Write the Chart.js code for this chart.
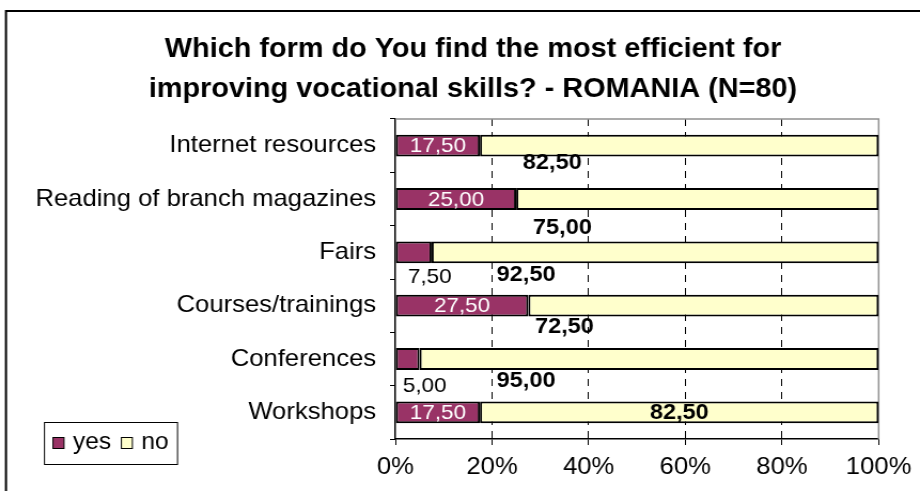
<!DOCTYPE html>
<html>
<head>
<meta charset="utf-8">
<script src="https://cdn.jsdelivr.net/npm/chart.js@4"></script>
<style>
  html, body { margin: 0; padding: 0; background: #fff; overflow: hidden; }
  /* the original picture is slightly stretched sideways, so the canvas is too */
  #wrap { width: 861px; height: 491px; transform: scaleX(1.0685); transform-origin: 0 0; }
</style>
</head>
<body>
<div id="wrap"><canvas id="chart" width="861" height="491"></canvas></div>
<script>
const categories = ["Internet resources", "Reading of branch magazines", "Fairs", "Courses/trainings", "Conferences", "Workshops"];
const yesValues = [17.5, 25, 7.5, 27.5, 5, 17.5];
const noValues = [82.5, 75, 92.5, 72.5, 95, 82.5];
const xTicks = [0, 20, 40, 60, 80, 100];
const titleLines = ["Which form do You find the most efficient for", "improving vocational skills? - ROMANIA (N=80)"];

const S = 920 / 861; // horizontal stretch
// label nudges (screen px from segment centre), as placed in the original
const yesLabelShift = [[0, 0], [0, 0], [16, 24], [0, 0], [17, 26], [0, 0]];
const noLabelShift = [[-127, 16], [-135, 28], [-129, 22], [-139, 20], [-123, 21], [0, 0]];

const FONT = "'Liberation Sans', Arial, sans-serif";
Chart.defaults.font.family = FONT;
Chart.defaults.color = "#000";

const fmt = v => v.toFixed(2).replace(".", ",");

const decorations = {
  id: "decorations",
  beforeDatasetsDraw(chart) {
    const { ctx, chartArea: a } = chart;
    ctx.save();
    ctx.strokeStyle = "#909090";
    ctx.lineWidth = 1.5;
    ctx.beginPath();
    ctx.moveTo(a.left, a.top);
    ctx.lineTo(a.right, a.top);
    ctx.lineTo(a.right, a.bottom);
    ctx.stroke();
    ctx.restore();
  },
  afterDatasetsDraw(chart) {
    const { ctx } = chart;
    ctx.save();
    ctx.textAlign = "center";
    ctx.textBaseline = "middle";
    chart.data.datasets.forEach((ds, di) => {
      const meta = chart.getDatasetMeta(di);
      meta.data.forEach((bar, i) => {
        const v = ds.data[i];
        const cx = (bar.x + bar.base) / 2;
        const [dx, dy] = (di === 0 ? yesLabelShift : noLabelShift)[i];
        if (di === 0) {
          ctx.font = "21px " + FONT;
          ctx.fillStyle = v >= 10 ? "#fff" : "#000";
        } else {
          ctx.font = "bold 22px " + FONT;
          ctx.fillStyle = "#000";
        }
        ctx.fillText(fmt(v), cx + dx / S, bar.y + 1 + dy);
      });
    });
    ctx.restore();
  },
  afterDraw(chart) {
    const { ctx } = chart;
    ctx.save();
    // outer frame
    ctx.strokeStyle = "#000";
    ctx.lineWidth = 2;
    ctx.strokeRect(5.6, 11, 1000, 1000);
    // title
    ctx.fillStyle = "#000";
    ctx.textAlign = "center";
    ctx.textBaseline = "alphabetic";
    ctx.font = "bold 27px " + FONT;
    titleLines.forEach((t, i) => ctx.fillText(t, 473 / S, 57 + i * 40));
    // legend
    ctx.lineWidth = 1;
    ctx.strokeRect(44.5 / S, 422.5, 133 / S, 42);
    ctx.font = "23px " + FONT;
    ctx.textAlign = "left";
    ctx.textBaseline = "middle";
    let x = 53 / S;
    chart.data.datasets.forEach(ds => {
      ctx.fillStyle = ds.backgroundColor;
      ctx.fillRect(x, 437, 11 / S, 11);
      ctx.strokeRect(x, 437.5, 11 / S, 11);
      ctx.fillStyle = "#000";
      ctx.fillText(ds.label, x + 20 / S, 443);
      x += 20 / S + ctx.measureText(ds.label).width + 9.5;
    });
    ctx.restore();
  }
};

new Chart(document.getElementById("chart"), {
  type: "bar",
  data: {
    labels: categories,
    datasets: [
      { label: "yes", data: yesValues, backgroundColor: "#993366", borderColor: "#000", borderWidth: 2, borderSkipped: false },
      { label: "no", data: noValues, backgroundColor: "#FFFFCC", borderColor: "#000", borderWidth: 2, borderSkipped: false }
    ]
  },
  options: {
    indexAxis: "y",
    responsive: false,
    animation: false,
    datasets: { bar: { categoryPercentage: 1, barPercentage: 0.41 } },
    layout: { padding: { top: 119, right: 36, left: 0, bottom: 0 } },
    plugins: { legend: { display: false }, tooltip: { enabled: false }, title: { display: false } },
    scales: {
      x: {
        stacked: true,
        min: 0,
        max: 100,
        afterBuildTicks: s => { s.ticks = xTicks.map(v => ({ value: v })); },
        afterFit: s => { s.height = 52; },
        ticks: { callback: v => v + "%", font: { size: 24 }, padding: 8, color: "#000" },
        grid: {
          color: c => (c.tick && (c.tick.value === 0 || c.tick.value === 100)) ? "rgba(0,0,0,0)" : "#000",
          tickColor: "#000",
          tickLength: 6,
          tickBorderDash: []
        },
        border: { color: "#000", width: 1.5, dash: [7, 6] }
      },
      y: {
        stacked: true,
        afterFit: s => { s.width = 370; },
        ticks: { font: { size: 24 }, padding: 13, color: "#000" },
        grid: { offset: true, drawOnChartArea: false, color: "#000", tickLength: 5 },
        border: { color: "#000", width: 1.5 }
      }
    }
  },
  plugins: [decorations]
});
</script>
</body>
</html>
